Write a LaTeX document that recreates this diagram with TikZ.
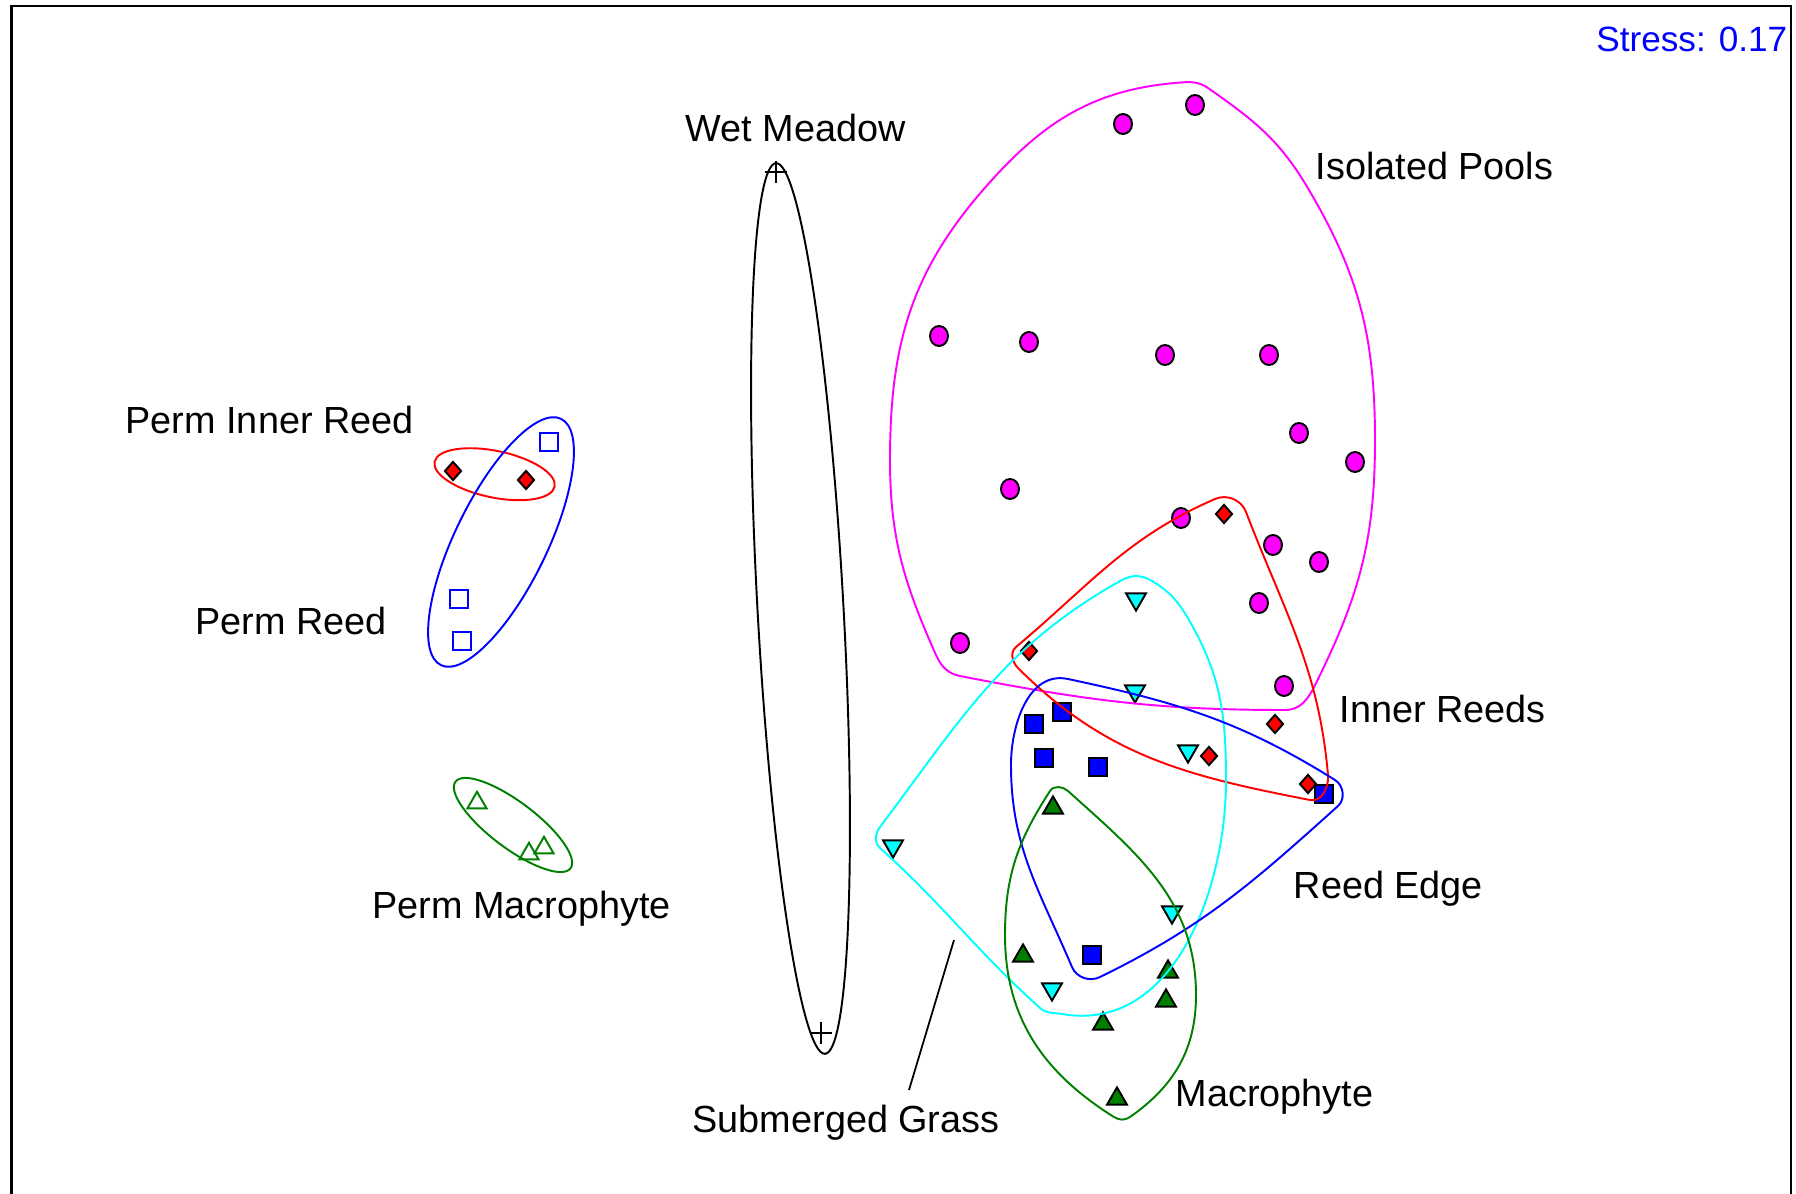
\documentclass[tikz,border=0pt]{standalone}
\usepackage{fontspec}
\setmainfont{Liberation Sans}
\usetikzlibrary{shapes.geometric, shapes.misc}
\definecolor{poolpink}{RGB}{255,0,255}
\definecolor{reedred}{RGB}{255,0,0}
\definecolor{grasscyan}{RGB}{0,255,255}
\definecolor{edgeblue}{RGB}{0,0,255}
\definecolor{macrogreen}{RGB}{0,128,0}

\begin{document}
\begin{tikzpicture}[
    x=0.01cm, y=-0.01cm,
    hull/.style={line width=0.55pt},
    grouptext/.style={font=\fontsize{10.75}{13}\selectfont, inner sep=0pt, anchor=base west},
    pool/.style={ellipse, draw=black, fill=poolpink, line width=0.55pt, inner sep=0pt, minimum width=0.18cm, minimum height=0.2cm},
    reedmark/.style={diamond, draw=black, fill=reedred, line width=0.55pt, inner sep=0pt, minimum width=0.17cm, minimum height=0.19cm},
    edgemark/.style={rectangle, draw=black, fill=edgeblue, line width=0.55pt, inner sep=0pt, minimum size=0.185cm},
    grassmark/.style={regular polygon, regular polygon sides=3, shape border rotate=180, draw=black, fill=grasscyan, line width=0.55pt, inner sep=0pt, minimum size=0.23cm, yshift=0.029cm},
    macromark/.style={regular polygon, regular polygon sides=3, draw=black, fill=macrogreen, line width=0.55pt, inner sep=0pt, minimum size=0.23cm, yshift=-0.029cm},
    permreedmark/.style={rectangle, draw=edgeblue, line width=0.55pt, inner sep=0pt, minimum size=0.175cm},
    permmacromark/.style={regular polygon, regular polygon sides=3, draw=macrogreen, line width=0.55pt, inner sep=0pt, minimum size=0.22cm, yshift=-0.028cm},
    meadowmark/.style={cross out, draw=black, line width=0.5pt, inner sep=0pt, minimum size=0.135cm, rotate=45}
]

\useasboundingbox (0,0) rectangle (1796,1194);
\draw[line width=0.6pt] (11.5,1194) -- (11.5,6) -- (1791,6) -- (1791,1194);

\foreach \x/\y [count=\i] in {1123/124, 1195/105, 939/336, 1029/342, 1165/355, 1269/355, 1299/433, 1355/462, 1010/489, 1181/518, 1273/545, 1319/562, 1259/603, 960/643, 1284/686}
    \node[pool] (pool\i) at (\x,\y) {};
\foreach \x/\y [count=\i] in {1224/514, 1029/651, 1275/724, 1209/756, 1308/784}
    \node[reedmark] (inner\i) at (\x,\y) {};
\foreach \x/\y [count=\i] in {1062/712, 1034/724, 1044/758, 1098/767, 1324/794, 1092/955}
    \node[edgemark] (edge\i) at (\x,\y) {};
\foreach \x/\y [count=\i] in {1136/602, 1135/694, 1188/754, 893/849, 1172/915, 1052/992}
    \node[grassmark] (grass\i) at (\x,\y) {};
\foreach \x/\y [count=\i] in {1053/805, 1023/953, 1168/969, 1166/998, 1103/1021, 1117/1096}
    \node[macromark] (macro\i) at (\x,\y) {};
\foreach \x/\y [count=\i] in {453/471, 526/480}
    \node[reedmark] (perminner\i) at (\x,\y) {};
\foreach \x/\y [count=\i] in {549/442, 459/599, 462/641}
    \node[permreedmark] (permreed\i) at (\x,\y) {};
\foreach \x/\y [count=\i] in {477/800, 529/851, 544/845}
    \node[permmacromark] (permmacro\i) at (\x,\y) {};
\foreach \x/\y [count=\i] in {776/172, 821/1033}
    \node[meadowmark] (meadow\i) at (\x,\y) {};

\draw[hull, black, rotate around={-86.85:(800.5,608.5)}] (800.5,608.5) ellipse [x radius=446, y radius=43];
\draw[hull, reedred, rotate around={-11.7:(494.6,474.2)}] (494.6,474.2) ellipse [x radius=61.3, y radius=23.3];
\draw[hull, edgeblue, rotate around={64:(501,542)}] (501,542) ellipse [x radius=137, y radius=46];
\draw[hull, macrogreen, rotate around={-37:(513,825)}] (513,825) ellipse [x radius=72, y radius=23];

\draw[hull, poolpink] (1175,83) to[out=5,in=145] (1208,88) to[out=-35,in=121] (1306,185)
    to[out=-59,in=90] (1375,440) to[out=-90,in=64] (1320,675) to[out=-116,in=0] (1285,710)
    to[out=180,in=-11] (960,676) to[out=169,in=-66] (936,655) to[out=114,in=-90] (890,460)
    to[out=90,in=229] (983,190) to[out=49,in=185] (1175,83) -- cycle;
\draw[hull, reedred] (1215,499) to[out=23.5,in=111] (1246,512) to[out=-69,in=95] (1328,775)
    to[out=-85,in=-11] (1310,800) to[out=169,in=-45] (1018,668) to[out=135,in=220] (1016,647)
    to[out=40,in=203.5] (1215,499) -- cycle;
\draw[hull, grasscyan] (1122,580) to[out=29,in=149] (1152,581) to[out=-31,in=120] (1189,620)
    to[out=-60,in=90] (1226,780) to[out=-90,in=-10] (1062,1014) to[out=170,in=-42] (1040,1008)
    to[out=138,in=-42] (880,848) to[out=138,in=233] (880,827) to[out=53,in=209] (1122,580) -- cycle;
\draw[hull, edgeblue] (1011,765) to[out=90,in=168] (1068,679) to[out=-12,in=148] (1335,780)
    to[out=-32,in=42] (1338,806) to[out=-138,in=26] (1100,977) to[out=-154,in=-67] (1072,967)
    to[out=113,in=-90] (1011,765) -- cycle;
\draw[hull, macrogreen] (1050,791) to[out=57,in=138] (1068,791) to[out=-42,in=90] (1196,995)
    to[out=-90,in=35] (1130,1117) to[out=-145,in=-32] (1114,1117) to[out=148,in=-90] (1005,935)
    to[out=90,in=237] (1050,791) -- cycle;

\node[grouptext] (meadowtext) at (685,142) {Wet Meadow};
\node[grouptext] (poolstext) at (1315,180) {Isolated Pools};
\node[grouptext] (perminnertext) at (125,433) {Perm Inner Reed};
\node[grouptext] (permreedtext) at (195,634) {Perm Reed};
\node[grouptext] (permmacrotext) at (372,918) {Perm Macrophyte};
\node[grouptext] (innertext) at (1339,722) {Inner Reeds};
\node[grouptext] (edgetext) at (1293,898) {Reed Edge};
\node[grouptext] (macrotext) at (1175,1106) {Macrophyte};
\node[grouptext] (grasstext) at (692,1132) {Submerged Grass};
\node[grouptext, anchor=base east, font=\fontsize{10}{12}\selectfont, text=edgeblue] (stress) at (1788,52) {Stress: 0.17};

\coordinate (grasstip) at (954,940);
\coordinate (grassfoot) at (909,1090);
\draw[line width=0.5pt] (grassfoot) -- (grasstip);

\end{tikzpicture}
\end{document}
